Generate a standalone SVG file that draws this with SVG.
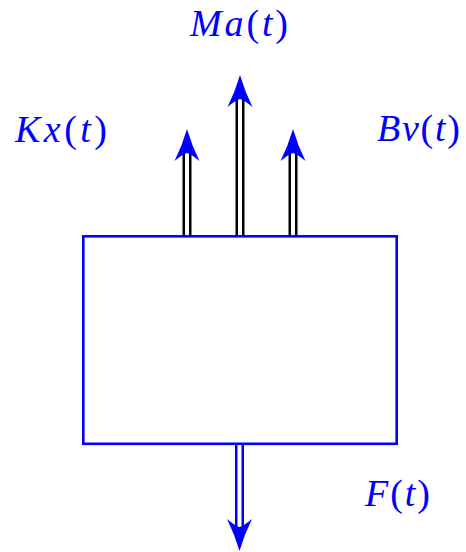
<svg xmlns="http://www.w3.org/2000/svg" width="466" height="552" viewBox="0 0 466 552">
<style>
.lbl{font-family:"Liberation Serif","DejaVu Serif",serif;font-size:38px;font-style:italic;fill:#0000ff}
.up{font-style:normal}
.outer{stroke:#000;stroke-width:9;fill:none}
.inner{stroke:#fff;stroke-width:4;fill:none}
.bouter{stroke:#0000ff;stroke-width:9;fill:none}
.head{fill:#0000ff;stroke:none}
</style>
<defs>
<path id="uph" d="M0,0 Q5,17 12.5,32 Q4,25 0,24 Q-4,25 -12.5,32 Q-5,17 0,0 Z"/>
</defs>
<rect width="466" height="552" fill="#fff"/>
<g id="mass">
<rect x="83.3" y="236.3" width="313.4" height="207.5" fill="none" stroke="#0000ff" stroke-width="2.6"/>
</g>
<g id="connectors">
<g id="arrow-Kx">
<line class="outer" x1="187" y1="235" x2="187" y2="150"/>
<line class="inner" x1="187" y1="235" x2="187" y2="148"/>
<use href="#uph" class="head" transform="translate(187,129)"/>
</g>
<g id="arrow-Ma">
<line class="outer" x1="240" y1="235" x2="240" y2="96"/>
<line class="inner" x1="240" y1="235" x2="240" y2="94"/>
<use href="#uph" class="head" transform="translate(240,75)"/>
</g>
<g id="arrow-Bv">
<line class="outer" x1="293" y1="235" x2="293" y2="150"/>
<line class="inner" x1="293" y1="235" x2="293" y2="148"/>
<use href="#uph" class="head" transform="translate(293,129)"/>
</g>
<g id="arrow-F">
<line class="bouter" x1="239.5" y1="445" x2="239.5" y2="530"/>
<line class="inner" x1="239.5" y1="445" x2="239.5" y2="532"/>
<use href="#uph" class="head" transform="translate(239.5,551) rotate(180)"/>
</g>
</g>
<g id="label-Ma"><text class="lbl" x="190" y="36" textLength="98" lengthAdjust="spacing">Ma<tspan class="up">(</tspan>t<tspan class="up">)</tspan></text></g>
<g id="label-Kx"><text class="lbl" x="15" y="142" textLength="92" lengthAdjust="spacing">Kx<tspan class="up">(</tspan>t<tspan class="up">)</tspan></text></g>
<g id="label-Bv"><text class="lbl" x="377" y="141" textLength="83" lengthAdjust="spacing">Bv<tspan class="up">(</tspan>t<tspan class="up">)</tspan></text></g>
<g id="label-F"><text class="lbl" x="365" y="506" textLength="65" lengthAdjust="spacing">F<tspan class="up">(</tspan>t<tspan class="up">)</tspan></text></g>
</svg>
